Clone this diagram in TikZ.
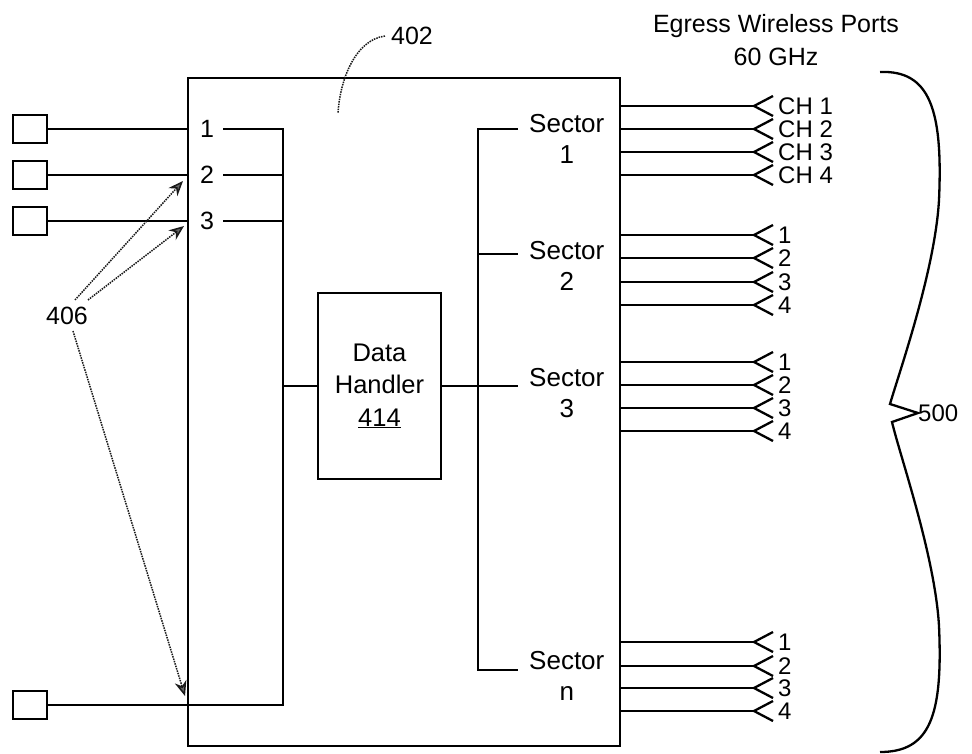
\documentclass[tikz,border=0pt]{standalone}
\usepackage{fontspec}
\setmainfont{Liberation Sans}
\usetikzlibrary{arrows.meta}
\begin{document}
\begin{tikzpicture}[x=1pt,y=-1pt,
  box/.style={draw, line width=2.3pt, inner sep=0pt},
  wire/.style={line width=2.9pt},
  chev/.style={line width=2.3pt, line join=miter},
  lbl/.style={font=\fontsize{25}{31}\selectfont, inner sep=0pt},
  chl/.style={font=\fontsize{24}{24}\selectfont, inner sep=0pt, anchor=west},
  seclbl/.style={font=\fontsize{26}{31}\selectfont, align=center, inner xsep=11pt, inner ysep=0pt, anchor=base west},
  ann/.style={densely dotted, line width=1.5pt, black!90, -{Stealth[length=15pt,width=12pt,fill=black!60]}},
  lead/.style={densely dotted, line width=1.5pt, black!90}
]
\useasboundingbox (0,0) rectangle (972,753);

% left ports
\node[box, minimum width=34pt, minimum height=28pt] (q1) at (30,129) {};
\node[box, minimum width=34pt, minimum height=28pt] (q2) at (30,175) {};
\node[box, minimum width=34pt, minimum height=28pt] (q3) at (30,221) {};
\node[box, minimum width=34pt, minimum height=28pt] (q4) at (30,705) {};

% main box
\node[box, minimum width=432pt, minimum height=668pt] (mb) at (404,412) {};

% data handler
\node[box, lbl, minimum width=123pt, minimum height=186pt, align=center, font=\fontsize{25.5}{32.5}\selectfont] (dh) at (379.5,386) {Data\\Handler\\\underline{414}};

% port labels
\node[lbl, inner xsep=9pt] (p1) at (207,129) {1};
\node[lbl, inner xsep=9pt] (p2) at (207,175) {2};
\node[lbl, inner xsep=9pt] (p3) at (207,221) {3};

\coordinate (lbt) at (283,129);
\coordinate (lbb) at (283,705);

\draw[wire] (q1.east) -- (q1.east -| mb.west);
\draw[wire] (q2.east) -- (q2.east -| mb.west);
\draw[wire] (q3.east) -- (q3.east -| mb.west);
\draw[wire] (p1.east) -- (lbt) -- (lbb) -- (q4.east);
\draw[wire] (p2.east) -- (p2.east -| lbt);
\draw[wire] (p3.east) -- (p3.east -| lbt);
\draw[wire] (dh.west) -- (dh.west -| lbt);

% sectors
\node[seclbl] (s1) at (518,163) {Sector\\1};
\node[seclbl] (s2) at (518,290) {Sector\\2};
\node[seclbl] (s3) at (518,417) {Sector\\3};
\node[seclbl] (sn) at (518,700) {Sector\\n};

\coordinate (rbt) at (478,129);
\coordinate (rb2) at (478,254);
\coordinate (rbb) at (478,670);

\draw[wire] (s1.west |- rbt) -- (rbt) -- (rbb) -- (sn.west |- rbb);
\draw[wire] (rb2) -- (s2.west |- rb2);
\draw[wire] (dh.east) -- (dh.east -| s3.west);

% channels
\foreach \y/\t/\n in {106/CH 1/a1,129/CH 2/a2,152/CH 3/a3,175/CH 4/a4,
                      235/1/b1,258/2/b2,282/3/b3,305/4/b4,
                      362/1/c1,385/2/c2,408/3/c3,431/4/c4,
                      642/1/d1,666/2/d2,688/3/d3,711/4/d4}{
  \node[chl] (\n) at (778,\y) {\t};
  \coordinate (apex\n) at (754,\y);
  \draw[wire] (mb.east |- apex\n) -- (apex\n);
  \draw[chev] (773,\y-10) -- (apex\n) -- (773,\y+10);
}

% title
\node[font=\fontsize{25}{33}\selectfont, align=center, inner sep=0pt, anchor=base] (title) at (776,65) {Egress Wireless Ports\\60 GHz};

% brace 500
\node[font=\fontsize{24}{24}\selectfont, inner sep=0pt, anchor=west] (n500) at (918,413) {500};
\draw[line width=2.3pt] (880,72) .. controls (930,70) and (943,110) .. (939,200)
  .. controls (935,270) and (900,370) .. (890,404) -- (n500.west) -- (892,422)
  .. controls (900,456) and (935,556) .. (939,626)
  .. controls (943,716) and (930,752) .. (880,752);

% 402
\node[lbl] (n402) at (412,36) {402};
\coordinate (c402) at (338,113);
\draw[lead] ([xshift=-6pt]n402.west) .. controls (355,40) and (340,80) .. (c402);

% 406
\node[lbl] (n406) at (67,316) {406};
\coordinate (t1) at (183,181);
\coordinate (t2) at (184,226);
\coordinate (t3) at (185,696);
\draw[ann] ([xshift=8pt,yshift=7pt]n406.north) -- (t1);
\draw[ann] ([xshift=21pt,yshift=7pt]n406.north) -- (t2);
\draw[ann] ([xshift=6pt,yshift=-6pt]n406.south) -- (t3);
\end{tikzpicture}
\end{document}
